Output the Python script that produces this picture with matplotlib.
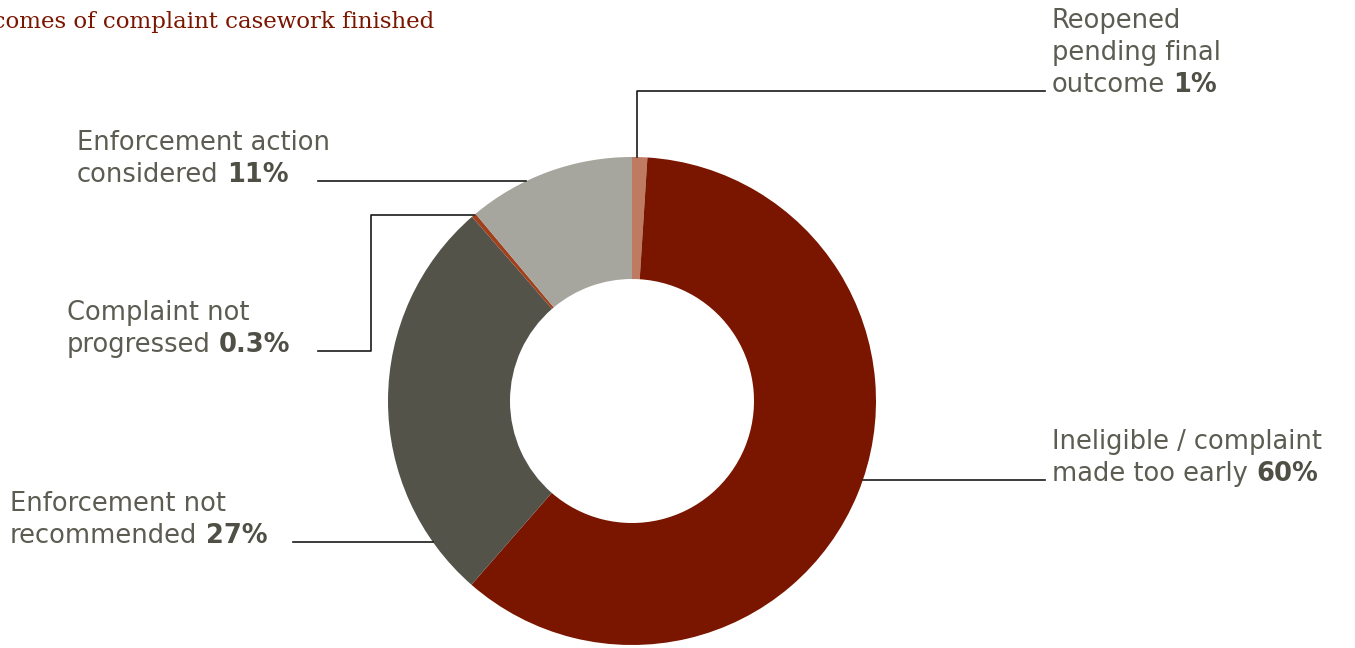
import numpy as np
import matplotlib.pyplot as plt

# slices, clockwise from the top
labels = ["Reopened\npending final\noutcome", "Ineligible / complaint\nmade too early",
          "Enforcement not\nrecommended", "Complaint not\nprogressed",
          "Enforcement action\nconsidered"]
shares = [1, 60, 27, 0.3, 11]
share_text = ["1%", "60%", "27%", "0.3%", "11%"]
colors = ["#BF7A62", "#7A1600", "#53534A", "#A0401C", "#A6A69E"]

W, H = 1355, 648
fig = plt.figure(figsize=(W / 100, H / 100), dpi=100)
ax = fig.add_axes([0, 0, 1, 1])

cx, cy, R = 632, H - 401, 244
wedges, _ = ax.pie(shares, colors=colors, startangle=90, counterclock=False,
                   center=(cx, cy), radius=R, frame=True,
                   wedgeprops=dict(width=R / 2, linewidth=0))
ax.set_xlim(0, W)
ax.set_ylim(0, H)
ax.set_aspect("equal")
ax.axis("off")

ax.text(434, H - 28, "Outcomes of complaint casework finished", ha="right",
        va="baseline", family="DejaVu Serif", fontsize=16.5, color="#7A1600")

txt_col = "#5C5C52"
bold_col = "#4F4F46"
fs = 18.5


def put_label(x, y, text, pct):
    # left aligned block; y is the baseline of the last line, bold share follows it
    lines = text.split("\n")
    t = ax.text(x, y, lines[-1], ha="left", va="baseline", fontsize=fs, color=txt_col)
    ax.annotate(pct, xy=(1, 0), xycoords=t, xytext=(6, 0), textcoords="offset points",
                ha="left", va="bottom", fontsize=fs, color=bold_col, weight="bold")
    for i, ln in enumerate(reversed(lines[:-1])):
        ax.text(x, y + 32 * (i + 1), ln, ha="left", va="baseline", fontsize=fs, color=txt_col)


def edge_x(y, sign):
    return cx + sign * np.sqrt(R ** 2 - (y - cy) ** 2)


def wedge_point(w, frac=0.5):
    a = np.deg2rad(w.theta1 + (w.theta2 - w.theta1) * frac)
    return cx + R * np.cos(a), cy + R * np.sin(a)


lc = dict(color="#1a1a1a", lw=1.2)

# reopened
px, py = wedge_point(wedges[0], 0.7)
ly = H - 91
ax.plot([px, px, 1045], [py, ly, ly], **lc)
put_label(1052, H - 92, labels[0], share_text[0])

# ineligible
ly = H - 480
ax.plot([edge_x(ly, 1), 1045], [ly, ly], **lc)
put_label(1052, H - 481, labels[1], share_text[1])

# enforcement not recommended
ly = H - 542
ax.plot([293, edge_x(ly, -1)], [ly, ly], **lc)
put_label(10, H - 543, labels[2], share_text[2])

# complaint not progressed
px, py = wedge_point(wedges[3], 0.5)
ly = H - 351
ax.plot([px, 371, 371, 318], [py, py, ly, ly], **lc)
put_label(67, H - 352, labels[3], share_text[3])

# enforcement action considered
ly = H - 181
ax.plot([318, edge_x(ly, -1)], [ly, ly], **lc)
put_label(77, H - 182, labels[4], share_text[4])

fig.savefig("out.png", dpi=100)
